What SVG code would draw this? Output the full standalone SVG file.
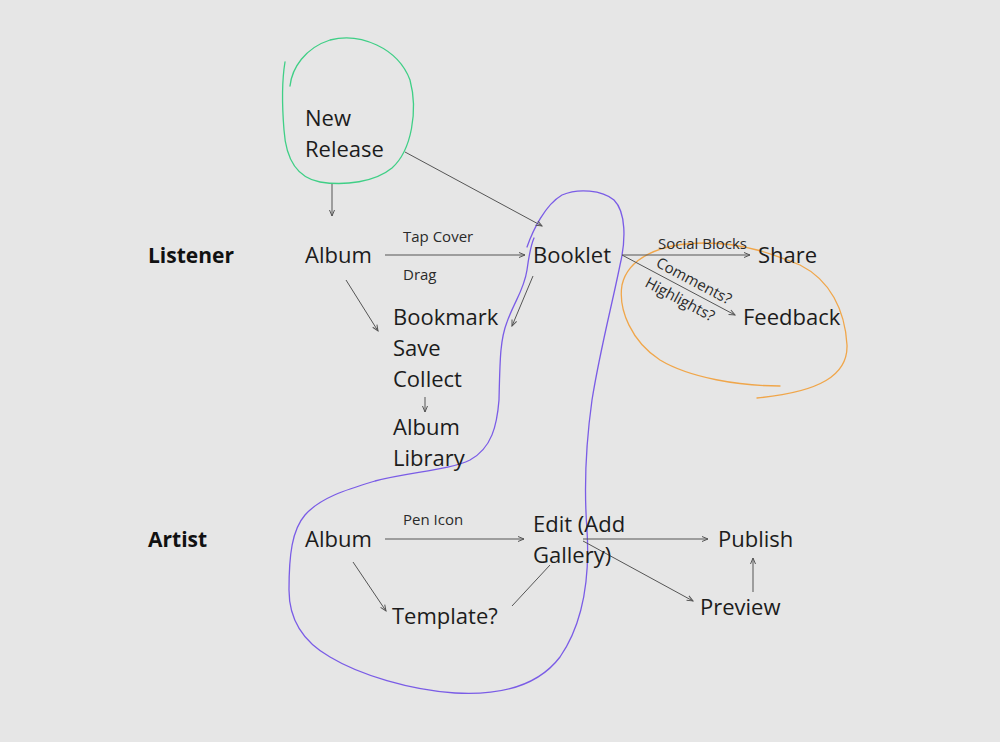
<svg xmlns="http://www.w3.org/2000/svg" width="1000" height="742" viewBox="0 0 1000 742">
<defs>
<marker id="ah" markerWidth="8" markerHeight="8" refX="7" refY="4" orient="auto" markerUnits="userSpaceOnUse">
<path d="M1,1.5 L7,4 L1,6.5" fill="none" stroke="#555" stroke-width="1"/>
</marker>
<style>
.t{font-family:"Open Sans","Liberation Sans",sans-serif;font-size:22px;fill:#1c1c1c}
.b{font-family:"Open Sans","Liberation Sans",sans-serif;font-size:21px;font-weight:bold;fill:#111}
.s{font-family:"Open Sans","Liberation Sans",sans-serif;font-size:15px;fill:#2a2a2a}
.c{stroke:#555;stroke-width:1;fill:none}
.a{marker-end:url(#ah)}
.h{fill:none;stroke-width:1.3;stroke-linecap:round}
</style>
</defs>
<rect width="1000" height="742" fill="#e6e6e6"/>
<g id="loops">
<path class="h" stroke="#3fcf86" d="M290,86 C292,68 305,48 330,40 C360,32 398,48 410,80 C418,110 412,150 392,168 C375,182 345,186 320,182 C298,178 286,160 284,130 C282,105 282,80 285,62"/>
<path class="h" stroke="#f0a64a" d="M780,386 C740,386 690,378 660,360 C632,342 618,310 622,285 C628,258 660,243 705,243 C745,243 775,255 800,265 C830,280 845,310 847,345 C848,375 820,392 757,398"/>
<path class="h" stroke="#7a5ce6" d="M527,247 C533,230 545,205 562,195 C578,188 602,190 614,200 C626,212 626,240 620,265 C612,305 600,350 592,400 C585,450 584,490 587,530 C590,580 582,625 560,657 C535,690 490,695 455,693 C410,690 360,675 330,657 C300,640 289,615 289,590 C289,555 292,530 305,515 C320,498 345,490 375,481 C410,472 450,470 470,460 C492,448 497,425 499,400 C500,360 500,340 507,322 C515,300 524,290 527,270 C529,255 531,245 534,238"/>
</g>
<g id="connectors">
<line class="c a" x1="332" y1="184" x2="332" y2="216"/>
<line class="c a" x1="405" y1="152" x2="542" y2="226"/>
<line class="c a" x1="385" y1="255" x2="525" y2="255"/>
<line class="c a" x1="346" y1="280" x2="378" y2="331"/>
<line class="c a" x1="533" y1="276" x2="512" y2="326"/>
<line class="c a" x1="425" y1="397" x2="425" y2="412"/>
<line class="c a" x1="622" y1="255" x2="750" y2="255"/>
<line class="c a" x1="622" y1="255" x2="735" y2="315"/>
<line class="c a" x1="385" y1="539" x2="524" y2="539"/>
<line class="c a" x1="583" y1="539" x2="708" y2="539"/>
<line class="c a" x1="583" y1="541" x2="693" y2="601"/>
<line class="c a" x1="753" y1="592" x2="753" y2="558"/>
<line class="c a" x1="353" y1="562" x2="386" y2="611"/>
<line class="c" x1="512" y1="606" x2="550" y2="565"/>
</g>
<g id="edge-labels">
<text class="s" x="403" y="242">Tap Cover</text>
<text class="s" x="403" y="280">Drag</text>
<text class="s" x="658" y="249">Social Blocks</text>
<text class="s" transform="translate(655,266) rotate(28)">Comments?</text>
<text class="s" transform="translate(644,286) rotate(28)">Highlights?</text>
<text class="s" x="403" y="525">Pen Icon</text>
</g>
<g id="lane-listener"><text class="b" x="148" y="263">Listener</text></g>
<g id="lane-artist"><text class="b" x="148" y="547">Artist</text></g>
<g id="new-release"><text class="t" x="305" y="126">New</text><text class="t" x="305" y="157">Release</text></g>
<g id="album-listener"><text class="t" x="305" y="263">Album</text></g>
<g id="booklet"><text class="t" x="533" y="263">Booklet</text></g>
<g id="bookmark"><text class="t" x="393" y="325">Bookmark</text><text class="t" x="393" y="356">Save</text><text class="t" x="393" y="387">Collect</text></g>
<g id="album-library"><text class="t" x="393" y="435">Album</text><text class="t" x="393" y="466">Library</text></g>
<g id="share"><text class="t" x="758" y="263">Share</text></g>
<g id="feedback"><text class="t" x="743" y="325">Feedback</text></g>
<g id="album-artist"><text class="t" x="305" y="547">Album</text></g>
<g id="edit"><text class="t" x="533" y="532">Edit (Add</text><text class="t" x="533" y="563">Gallery)</text></g>
<g id="publish"><text class="t" x="718" y="547">Publish</text></g>
<g id="preview"><text class="t" x="700" y="615">Preview</text></g>
<g id="template"><text class="t" x="392" y="624">Template?</text></g>
</svg>
